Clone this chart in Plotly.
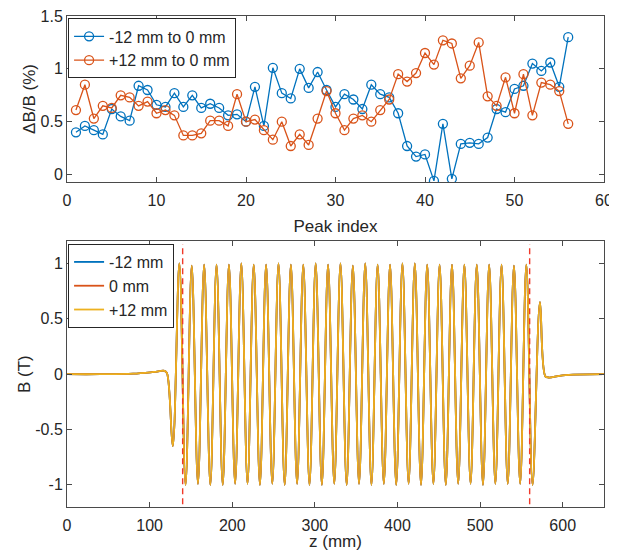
import plotly.graph_objects as go

# --- top panel: relative peak deviation vs peak index ---
peak_index = list(range(1, 57))

dev_minus12 = [0.40, 0.46, 0.42, 0.38, 0.62, 0.55, 0.51, 0.84, 0.80, 0.66,
               0.64, 0.77, 0.64, 0.75, 0.63, 0.67, 0.63, 0.56, 0.57, 0.50,
               0.83, 0.46, 1.01, 0.77, 0.72, 1.00, 0.82, 0.97, 0.80, 0.64,
               0.76, 0.71, 0.62, 0.85, 0.76, 0.73, 0.58, 0.27, 0.17, 0.19,
               -0.06, 0.48, -0.04, 0.29, 0.30, 0.29, 0.35, 0.62, 0.59, 0.81,
               0.84, 1.05, 0.98, 1.06, 0.83, 1.30]

dev_plus12 = [0.61, 0.85, 0.53, 0.65, 0.63, 0.75, 0.73, 0.65, 0.69, 0.58,
              0.61, 0.56, 0.37, 0.37, 0.39, 0.51, 0.51, 0.46, 0.76, 0.50,
              0.52, 0.42, 0.33, 0.50, 0.27, 0.38, 0.28, 0.53, 0.79, 0.58,
              0.42, 0.53, 0.56, 0.50, 0.61, 0.71, 0.95, 0.88, 0.96, 1.15,
              1.04, 1.27, 1.24, 0.91, 1.03, 1.25, 0.74, 0.65, 0.92, 0.58,
              0.95, 0.56, 0.87, 0.85, 0.79, 0.48]

# --- bottom panel: on-axis field profile (extrema and shape points) ---
z_field = [0, 40, 80, 105, 118, 121, 128,
           136, 143.5, 151, 158.5, 166, 173.5, 181, 188.5, 196, 203.5,
           211, 218.5, 226, 233.5, 241, 248.5, 256, 263.5, 271, 278.5,
           286, 293.5, 301, 308.5, 316, 323.5, 331, 338.5, 346, 353.5,
           361, 368.5, 376, 383.5, 391, 398.5, 406, 413.5, 421, 428.5,
           436, 443.5, 451, 458.5, 466, 473.5, 481, 488.5, 496, 503.5,
           511, 518.5, 526, 533.5, 541, 548.5, 556, 563.5,
           572.5, 579, 583, 600, 650]

b_field = [0.0, 0.0, 0.005, 0.02, 0.03, 0.01, -0.65,
           1.00, -1.00, 0.98, -0.99, 0.99, -1.00, 0.99, -1.00, 0.99, -0.99,
           1.00, -0.99, 0.99, -1.00, 0.99, -0.99, 1.00, -1.00, 0.99, -0.99,
           0.99, -1.00, 1.00, -1.00, 0.99, -0.99, 1.00, -1.00, 0.98, -0.99,
           1.00, -1.00, 0.99, -0.99, 0.99, -1.00, 1.00, -0.99, 1.00, -1.00,
           0.99, -0.99, 0.99, -1.00, 0.99, -0.99, 0.99, -0.99, 0.99, -1.00,
           0.99, -0.99, 0.99, -0.99, 0.98, -0.99, 0.99, -1.00,
           0.65, -0.02, -0.03, -0.01, 0.0]

entrance_exit = [140, 560]

BLUE = "#0072BD"
ORANGE = "#D95319"
YELLOW = "#EDB120"
AXIS = "#4a4a4a"
TEXT = "#262626"
FONT = "Liberation Sans, Arial, sans-serif"

fig = go.Figure()

for name, vals, col in [("-12 mm to 0 mm", dev_minus12, BLUE),
                        ("+12 mm to 0 mm", dev_plus12, ORANGE)]:
    fig.add_trace(go.Scatter(
        x=peak_index, y=vals, name=name, mode="lines+markers",
        line=dict(color=col, width=1.3),
        marker=dict(symbol="circle-open", size=9, color=col, line=dict(width=1.3)),
        xaxis="x", yaxis="y", legend="legend",
    ))

for name, col in [("-12 mm", BLUE), ("0 mm", ORANGE), ("+12 mm", YELLOW)]:
    fig.add_trace(go.Scatter(
        x=z_field, y=b_field, name=name, mode="lines",
        line=dict(color=col, width=1.8, shape="spline", smoothing=1),
        xaxis="x2", yaxis="y2", legend="legend2",
    ))

for zx in entrance_exit:
    fig.add_shape(type="line", xref="x2", yref="y2 domain",
                  x0=zx, x1=zx, y0=0.01, y1=0.99,
                  line=dict(color="#F03A2A", width=1.4, dash="6px,4px"),
                  layer="above")

axis_common = dict(
    showline=True, linecolor=AXIS, linewidth=1, mirror="ticks",
    ticks="inside", ticklen=5, tickcolor=AXIS, showgrid=False, zeroline=False,
    tickfont=dict(size=16, color=TEXT, family=FONT), automargin=False,
    ticklabeloverflow="allow",
)

# the page body adds an 8 px margin, so the figure is shifted by 8 px
fig.update_layout(
    width=609, height=543,
    margin=dict(l=59, r=13, t=8, b=44),
    plot_bgcolor="white", paper_bgcolor="white",
    font=dict(family=FONT, color=TEXT, size=16),
    showlegend=True,
    xaxis=dict(axis_common, domain=[0, 1], anchor="y", range=[0, 60],
               tickvals=[0, 10, 20, 30, 40, 50, 60], ticklabelstandoff=4,
               title=dict(text="Peak index", font=dict(size=17), standoff=11)),
    yaxis=dict(axis_common, domain=[0.662, 1], anchor="x", range=[-0.07, 1.5],
               tickvals=[0, 0.5, 1, 1.5], ticktext=["0", "0.5", "1", "1.5"],
               title=dict(text="ΔB/B (%)", font=dict(size=17), standoff=0)),
    xaxis2=dict(axis_common, domain=[0, 1], anchor="y2", range=[0, 650],
                tickvals=[0, 100, 200, 300, 400, 500, 600], ticklabelstandoff=4,
                title=dict(text="z (mm)", font=dict(size=17), standoff=6)),
    yaxis2=dict(axis_common, domain=[0, 0.541], anchor="x2", range=[-1.2, 1.2],
                tickvals=[-1, -0.5, 0, 0.5, 1],
                ticktext=["-1", "-0.5", "0", "0.5", "1"],
                title=dict(text="B (T)", font=dict(size=17), standoff=0)),
    legend=dict(x=0.002, y=0.995, xref="paper", yref="paper",
                xanchor="left", yanchor="top", bgcolor="white",
                bordercolor=TEXT, borderwidth=1, font=dict(size=16),
                tracegroupgap=0, itemwidth=30),
    legend2=dict(x=0.002, y=0.5356, xref="paper", yref="paper",
                 xanchor="left", yanchor="top", bgcolor="white",
                 bordercolor=TEXT, borderwidth=1, font=dict(size=16),
                 tracegroupgap=0, itemwidth=30),
)

fig.write_html("out.html")
